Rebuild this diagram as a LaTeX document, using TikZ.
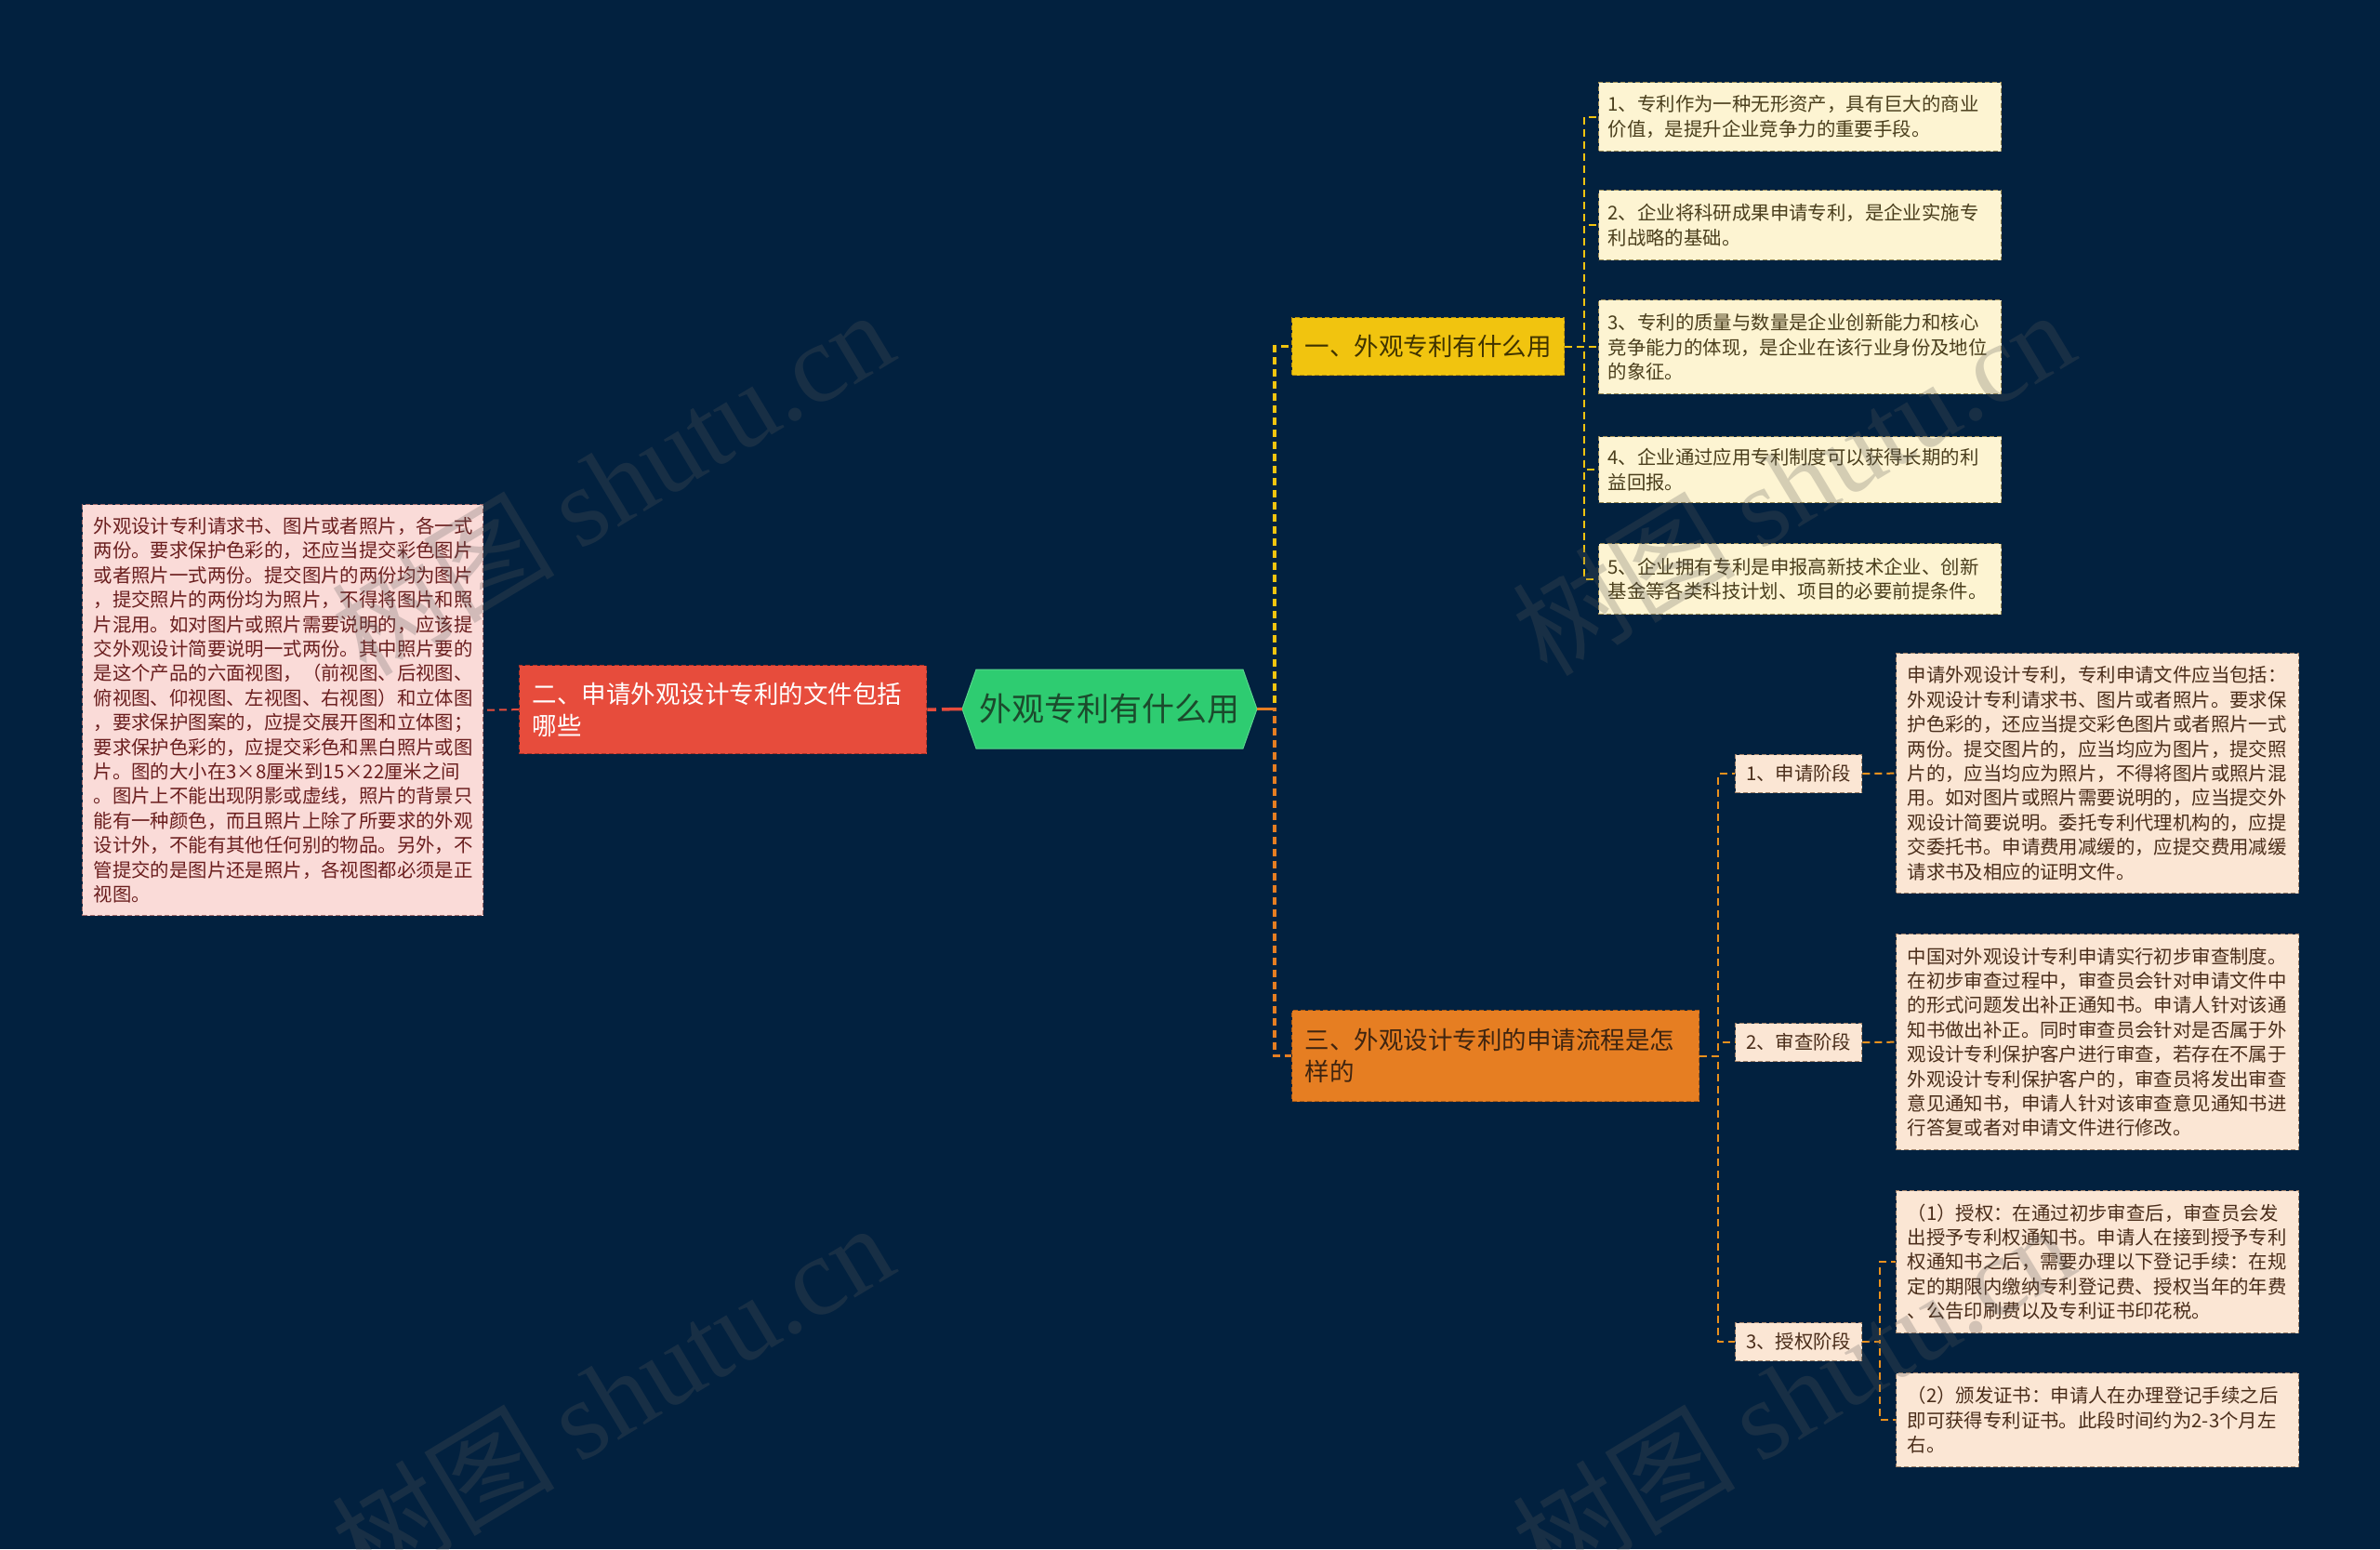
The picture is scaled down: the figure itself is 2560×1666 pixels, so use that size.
\documentclass[tikz,border=0pt]{standalone}
\usepackage{fontspec}
\setmainfont{Noto Sans CJK SC}
\newfontfamily\wmlatin{Liberation Serif}
\usetikzlibrary{calc}
\definecolor{bg}{HTML}{02213F}
\definecolor{cgreen}{HTML}{2ECC71}
\definecolor{cgreentxt}{HTML}{1B4A2C}
\definecolor{cyel}{HTML}{F1C40F}
\definecolor{cyelbd}{HTML}{B8930A}
\definecolor{cyeltxt}{HTML}{3F3300}
\definecolor{cred}{HTML}{E74C3C}
\definecolor{credbd}{HTML}{A93226}
\definecolor{corg}{HTML}{E67E22}
\definecolor{corgbd}{HTML}{A85A15}
\definecolor{corgtxt}{HTML}{3E2410}
\definecolor{lyfill}{HTML}{FDF4D2}
\definecolor{lybd}{HTML}{9C8C55}
\definecolor{lytxt}{HTML}{4A3E1C}
\definecolor{lpfill}{HTML}{FADBD8}
\definecolor{lpbd}{HTML}{A06A6A}
\definecolor{lptxt}{HTML}{6A1E1E}
\definecolor{lofill}{HTML}{FBE6D4}
\definecolor{lobd}{HTML}{9E8068}
\definecolor{lotxt}{HTML}{4A2D1A}
\definecolor{wmc}{HTML}{5A5A5A}
\begin{document}
\begin{tikzpicture}[x=1pt,y=-1pt,
  box/.style={anchor=north west, inner xsep=12pt, inner ysep=0pt, align=left,
    line width=1.3pt, dash pattern=on 5pt off 3pt},
  mainf/.style={font=\fontsize{26.5}{34}\selectfont},
  smallf/.style={font=\fontsize{20.4}{26.4}\selectfont},
  leafy/.style={box, smallf, fill=lyfill, draw=lybd, text=lytxt, inner xsep=10pt, minimum width=433pt, text width=413pt},
  leafp/.style={box, smallf, fill=lpfill, draw=lpbd, text=lptxt, minimum width=431pt, text width=407pt},
  leafo/.style={box, smallf, fill=lofill, draw=lobd, text=lotxt, minimum width=433pt, text width=409pt},
  stagebox/.style={box, smallf, fill=lofill, draw=lobd, text=lotxt, minimum width=136pt, minimum height=41pt, inner xsep=11pt},
  connmain/.style={line width=3.5pt, dash pattern=on 8pt off 5pt},
  connleaf/.style={line width=2pt, dash pattern=on 8pt off 5pt},
  wm/.style={text=wmc, text opacity=0.25, rotate=31, font=\fontsize{120}{125}\selectfont}
]
\useasboundingbox (0,0) rectangle (2560,1666);
\fill[bg] (0,0) rectangle (2560,1666);

% central hexagon
\coordinate (cL) at (1035,762.5);
\coordinate (cR) at (1352,762.5);
\fill[cgreen, draw=cgreen!80!white, line width=1pt] (cL) -- (1050,720) -- (1337,720) -- (cR) -- (1337,805) -- (1050,805) -- cycle;
\node[text=cgreentxt, font=\fontsize{35}{40}\selectfont, inner sep=0pt] (c) at (1193.5,762.5) {外观专利有什么用};

% main branches
\node[box, mainf, fill=cyel, draw=cyelbd, text=cyeltxt, minimum width=291pt, minimum height=62pt, inner xsep=14pt] (n1) at (1389,341) {一、外观专利有什么用};
\node[box, mainf, fill=cred, draw=credbd, text=white, minimum width=438pt, minimum height=95pt, text width=410pt, inner xsep=14pt] (n2) at (558,715) {二、申请外观设计专利的文件包括\\哪些};
\node[box, mainf, fill=corg, draw=corgbd, text=corgtxt, minimum width=438pt, minimum height=98pt, text width=410pt, inner xsep=14pt] (n3) at (1389,1086) {三、外观设计专利的申请流程是怎\\样的};

% leaves of branch 1
\node[leafy, minimum height=74pt] (a1) at (1719,88) {1、专利作为一种无形资产，具有巨大的商业\\价值，是提升企业竞争力的重要手段。};
\node[leafy, minimum height=75pt] (a2) at (1719,204) {2、企业将科研成果申请专利，是企业实施专\\利战略的基础。};
\node[leafy, minimum height=101pt] (a3) at (1719,322) {3、专利的质量与数量是企业创新能力和核心\\竞争能力的体现，是企业在该行业身份及地位\\的象征。};
\node[leafy, minimum height=71pt] (a4) at (1719,469) {4、企业通过应用专利制度可以获得长期的利\\益回报。};
\node[leafy, minimum height=76pt] (a5) at (1719,584) {5、企业拥有专利是申报高新技术企业、创新\\基金等各类科技计划、项目的必要前提条件。};

% leaf of branch 2
\node[leafp, minimum height=442pt] (b1) at (88,542) {外观设计专利请求书、图片或者照片，各一式\\两份。要求保护色彩的，还应当提交彩色图片\\或者照片一式两份。提交图片的两份均为图片\\，提交照片的两份均为照片，不得将图片和照\\片混用。如对图片或照片需要说明的，应该提\\交外观设计简要说明一式两份。其中照片要的\\是这个产品的六面视图，（前视图、后视图、\\俯视图、仰视图、左视图、右视图）和立体图\\，要求保护图案的，应提交展开图和立体图；\\要求保护色彩的，应提交彩色和黑白照片或图\\片。图的大小在3×8厘米到15×22厘米之间\\。图片上不能出现阴影或虚线，照片的背景只\\能有一种颜色，而且照片上除了所要求的外观\\设计外，不能有其他任何别的物品。另外，不\\管提交的是图片还是照片，各视图都必须是正\\视图。};

% stages of branch 3
\node[stagebox] (s1) at (1866,811) {1、申请阶段};
\node[stagebox] (s2) at (1866,1100) {2、审查阶段};
\node[stagebox] (s3) at (1866,1422) {3、授权阶段};

\node[leafo, minimum height=258pt] (d1) at (2039,702) {申请外观设计专利，专利申请文件应当包括：\\外观设计专利请求书、图片或者照片。要求保\\护色彩的，还应当提交彩色图片或者照片一式\\两份。提交图片的，应当均应为图片，提交照\\片的，应当均应为照片，不得将图片或照片混\\用。如对图片或照片需要说明的，应当提交外\\观设计简要说明。委托专利代理机构的，应提\\交委托书。申请费用减缓的，应提交费用减缓\\请求书及相应的证明文件。};
\node[leafo, minimum height=232pt] (d2) at (2039,1004) {中国对外观设计专利申请实行初步审查制度。\\在初步审查过程中，审查员会针对申请文件中\\的形式问题发出补正通知书。申请人针对该通\\知书做出补正。同时审查员会针对是否属于外\\观设计专利保护客户进行审查，若存在不属于\\外观设计专利保护客户的，审查员将发出审查\\意见通知书，申请人针对该审查意见通知书进\\行答复或者对申请文件进行修改。};
\node[leafo, minimum height=153pt] (d3) at (2039,1280) {（1）授权：在通过初步审查后，审查员会发\\出授予专利权通知书。申请人在接到授予专利\\权通知书之后，需要办理以下登记手续：在规\\定的期限内缴纳专利登记费、授权当年的年费\\、公告印刷费以及专利证书印花税。};
\node[leafo, minimum height=101pt] (d4) at (2039,1476) {（2）颁发证书：申请人在办理登记手续之后\\即可获得专利证书。此段时间约为2-3个月左\\右。};

% connectors
\draw[connmain, cyel] (cR) -- ++(19,0) |- (n1.west);
\draw[connmain, corg] (cR) -- ++(19,0) |- (n3.west);
\draw[corg, line width=3.5pt] (cR) -- ++(19,0);
\draw[cred, line width=3.5pt, dash pattern=on 22pt off 6pt] (cL) -- (n2.east);
\draw[connleaf, cred] (n2.west) -- (b1.east);
\foreach \t in {a1,a2,a3,a4,a5}
  \draw[connleaf, cyel] (n1.east) -- ++(21,0) |- (\t.west);
\foreach \t in {s1,s2,s3}
  \draw[connleaf, corg!85!yellow] (n3.east) -- ++(20,0) |- (\t.west);
\draw[connleaf, corg!85!yellow] (s1.east) -- (d1.west);
\draw[connleaf, corg!85!yellow] (s2.east) -- (d2.west);
\draw[connleaf, corg!85!yellow] (s3.east) -- ++(19,0) |- (d3.west);
\draw[connleaf, corg!85!yellow] (s3.east) -- ++(19,0) |- (d4.west);

% watermarks
\node[wm] (w1) at (658,518) {树图 {\wmlatin shutu.cn}};
\node[wm] (w2) at (1928,518) {树图 {\wmlatin shutu.cn}};
\node[wm] (w3) at (658,1500) {树图 {\wmlatin shutu.cn}};
\node[wm] (w4) at (1928,1500) {树图 {\wmlatin shutu.cn}};
\end{tikzpicture}
\end{document}
